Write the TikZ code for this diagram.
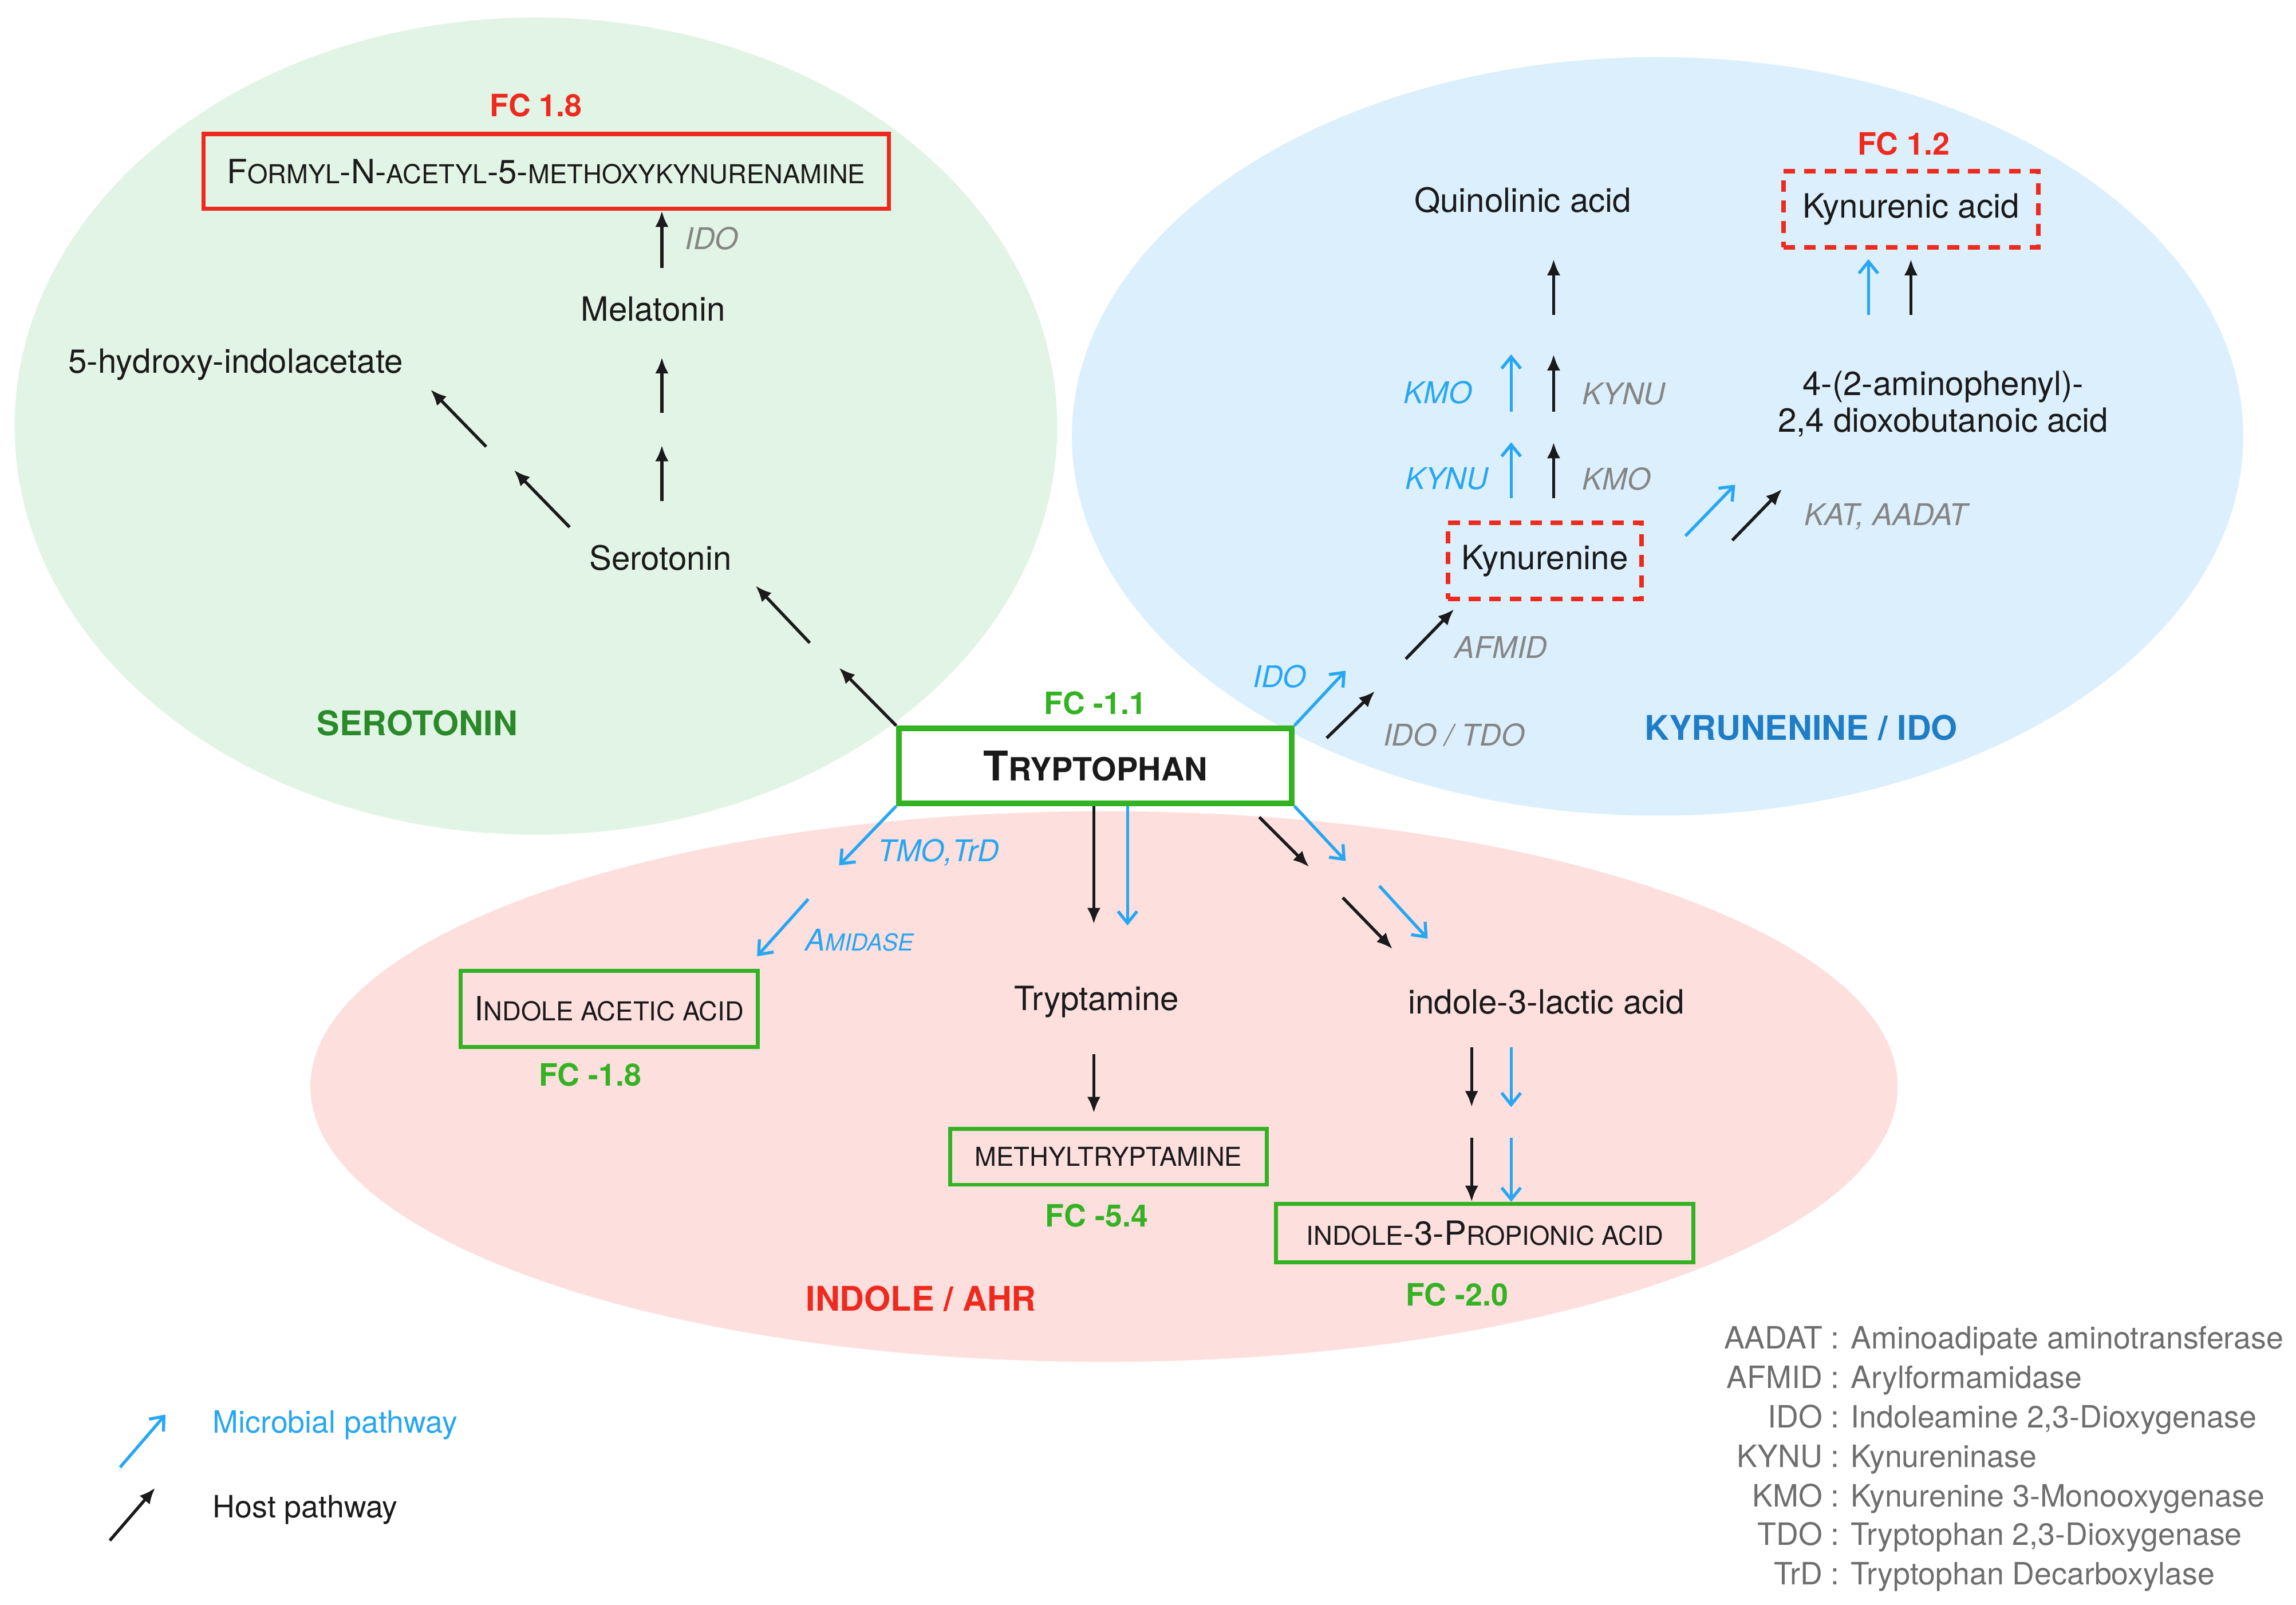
\documentclass[tikz,border=0pt]{standalone}
\usepackage{fontspec}
\setmainfont{TeX Gyre Heros}
\usepackage{tikz}
\usetikzlibrary{arrows.meta}

\definecolor{serofill}{HTML}{E2F4E5}
\definecolor{kynfill}{HTML}{DCEFFC}
\definecolor{indfill}{HTML}{FDDFDD}
\definecolor{microbe}{HTML}{27A7F2}
\definecolor{fcgreen}{HTML}{33B323}
\definecolor{fcred}{HTML}{EE2A1F}
\definecolor{serogreen}{HTML}{2A8A2A}
\definecolor{kynblue}{HTML}{1F7DC6}
\definecolor{enzgray}{HTML}{858585}
\definecolor{abbrgray}{HTML}{6E6E6E}
\definecolor{ink}{HTML}{1A1A1A}

% fake small caps (uppercase at 78% size)
\makeatletter
\newcommand\smc[1]{{\fontsize{\strip@pt\dimexpr.78\dimexpr\f@size pt\relax\relax}{\f@baselineskip}\selectfont\MakeUppercase{#1}}}
\makeatother

\tikzset{
	>=Latex,
	host/.style={-{Latex[length=5.5pt,width=4.6pt]}, line width=1.05pt, ink},
	microbial/.style={-{Straight Barb[length=4pt,width=6.5pt]}, line width=1.05pt, microbe},
	metab/.style={font=\fontsize{11.4}{12.5}\selectfont, text=ink},
	enzyme/.style={font=\itshape\fontsize{10.2}{12}\selectfont, text=enzgray},
	fclabel/.style={font=\bfseries\fontsize{10.5}{12}\selectfont, text=fcgreen},
	region/.style={font=\bfseries\fontsize{11.6}{13}\selectfont},
	fcbox/.style={metab, draw=fcgreen, line width=1.3pt},
	upbox/.style={metab, draw=fcred, line width=1.5pt},
	dashbox/.style={metab, draw=fcred, line width=1.5pt, dash pattern=on 4pt off 3pt},
	legtext/.style={font=\fontsize{10.5}{12}\selectfont, anchor=west, inner sep=0pt},
	abbr/.style={font=\fontsize{10.5}{12}\selectfont, text=abbrgray, anchor=base west, inner sep=0pt}
}

\begin{document}
\begin{tikzpicture}[x=0.5pt,y=-0.5pt]
	\useasboundingbox (0,0) rectangle (1568,1096);
	
	% pathway areas
	\fill[serofill] (366,291) ellipse [x radius=356, y radius=279];
	\fill[kynfill]  (1132,298) ellipse [x radius=400, y radius=259];
	\fill[indfill]  (754,742) ellipse [x radius=542, y radius=188];
	
	% area titles
	\node[region, text=serogreen] (tsero) at (285,494) {SEROTONIN};
	\node[region, text=kynblue]   (tkyn)  at (1230,497) {KYRUNENINE / IDO};
	\node[region, text=fcred]     (tind)  at (629,887) {INDOLE / AHR};
	
	% tryptophan in the middle
	\node[draw=fcgreen, line width=2pt, fill=white, minimum width=134pt, minimum height=25.5pt,
	font=\bfseries\fontsize{14}{16}\selectfont, text=ink] (trp) at (748,523) {T\smc{ryptophan}};
	\node[fclabel] (fctrp) at (748,480) {FC -1.1};
	
	% serotonin branch
	\node[upbox, minimum width=234pt, minimum height=25.5pt] (fak) at (373,117)
	{F\smc{ormyl}-N-\smc{acetyl}-5-\smc{methoxykynurenamine}};
	\node[fclabel, text=fcred] (fcfak) at (366,72) {FC 1.8};
	\node[metab] (mel) at (446,211) {Melatonin};
	\node[metab] (hia) at (161,249) {5-hydroxy-indolacetate};
	\node[metab] (ser) at (451,381) {Serotonin};
	\node[enzyme] (eido) at (486,163) {IDO};
	
	\coordinate (ts1) at (573,456);
	\coordinate (ts2) at (553,439);
	\coordinate (ts3) at (516,400);
	\coordinate (sh1) at (389,360);
	\coordinate (sh2) at (351,321);
	\coordinate (sh3) at (332,305);
	\coordinate (sh4) at (294,266);
	\coordinate (sm1) at (452,342);
	\coordinate (sm2) at (452,304);
	\coordinate (sm3) at (452,282);
	\coordinate (sm4) at (452,244);
	\coordinate (mf1) at (452,183);
	
	\draw[host] (trp.north west) -- (ts1);
	\draw[host] (ts2) -- (ts3);
	\draw[host] (sh1) -- (sh2);
	\draw[host] (sh3) -- (sh4);
	\draw[host] (sm1) -- (sm2);
	\draw[host] (sm3) -- (sm4);
	\draw[host] (mf1) -- (mf1 |- fak.south);
	
	% kynurenine branch
	\node[metab] (quin) at (1040,137) {Quinolinic acid};
	\node[dashbox, minimum width=87pt, minimum height=26pt] (kyna) at (1305,143) {Kynurenic acid};
	\node[fclabel, text=fcred] (fckyna) at (1300,98) {FC 1.2};
	\node[dashbox, minimum width=66pt, minimum height=26pt] (kyn) at (1055,383) {Kynurenine};
	\node[metab, align=center] (adba) at (1327,276) {4-(2-aminophenyl)-\\2,4 dioxobutanoic acid};
	\node[enzyme, text=microbe] (ekmo1) at (982,268) {KMO};
	\node[enzyme] (ekynu1) at (1109,269) {KYNU};
	\node[enzyme, text=microbe] (ekynu2) at (988,327) {KYNU};
	\node[enzyme] (ekmo2) at (1104,327) {KMO};
	\node[enzyme] (ekat) at (1288,353) {KAT, AADAT};
	\node[enzyme] (eafmid) at (1025,442) {AFMID};
	\node[enzyme, text=microbe] (eido2) at (874,462) {IDO};
	\node[enzyme] (etdo) at (993,502) {IDO / TDO};
	
	\coordinate (tk1) at (919,458);
	\coordinate (tk2) at (906,504);
	\coordinate (tk3) at (939,472);
	\coordinate (ak1) at (960,450);
	\coordinate (ak2) at (993,416);
	\coordinate (kq1) at (1032,340);
	\coordinate (kq2) at (1032,302);
	\coordinate (kq3) at (1061,340);
	\coordinate (kq4) at (1061,302);
	\coordinate (kq5) at (1032,281);
	\coordinate (kq6) at (1032,242);
	\coordinate (kq7) at (1061,281);
	\coordinate (kq8) at (1061,242);
	\coordinate (kq9) at (1061,215);
	\coordinate (kq10) at (1061,177);
	\coordinate (ka1) at (1276,215);
	\coordinate (ka2) at (1276,177);
	\coordinate (ka3) at (1305,215);
	\coordinate (ka4) at (1305,177);
	\coordinate (kd1) at (1151,366);
	\coordinate (kd2) at (1185,331);
	\coordinate (kd3) at (1183,369);
	\coordinate (kd4) at (1217,334);
	
	\draw[microbial] (trp.north east) -- (tk1);
	\draw[host] (tk2) -- (tk3);
	\draw[host] (ak1) -- (ak2);
	\draw[microbial] (kq1) -- (kq2);
	\draw[host] (kq3) -- (kq4);
	\draw[microbial] (kq5) -- (kq6);
	\draw[host] (kq7) -- (kq8);
	\draw[host] (kq9) -- (kq10);
	\draw[microbial] (ka1) -- (ka2);
	\draw[host] (ka3) -- (ka4);
	\draw[microbial] (kd1) -- (kd2);
	\draw[host] (kd3) -- (kd4);
	
	% indole branch
	\node[enzyme, text=microbe] (etmo) at (641,582) {TMO,TrD};
	\node[enzyme, text=microbe] (eami) at (587,642) {A\smc{midase}};
	\node[fcbox, minimum width=101.5pt, minimum height=26pt] (iaa) at (416,689) {I\smc{ndole acetic acid}};
	\node[fclabel] (fciaa) at (403,734) {FC -1.8};
	\node[metab] (tra) at (749,684) {Tryptamine};
	\node[fcbox, minimum width=108pt, minimum height=19pt] (mtr) at (757,790) {\smc{methyltryptamine}};
	\node[fclabel] (fcmtr) at (749,830) {FC -5.4};
	\node[metab] (ila) at (1056,684) {indole-3-lactic acid};
	\node[fcbox, minimum width=142.5pt, minimum height=20pt] (ipa) at (1014,842) {\smc{indole}-3-P\smc{ropionic acid}};
	\node[fclabel] (fcipa) at (995,884) {FC -2.0};
	
	\coordinate (ti1) at (573,591);
	\coordinate (ti2) at (552,614);
	\coordinate (ti3) at (517,653);
	\coordinate (tt1) at (747,631);
	\coordinate (tt2) at (770,632);
	\coordinate (tl1) at (860,558);
	\coordinate (tl2) at (894,592);
	\coordinate (tl3) at (919,588);
	\coordinate (tl4) at (917,613);
	\coordinate (tl5) at (951,648);
	\coordinate (tl6) at (942,605);
	\coordinate (tl7) at (975,641);
	\coordinate (lp1) at (1005,715);
	\coordinate (lp2) at (1005,756);
	\coordinate (lp3) at (1032,715);
	\coordinate (lp4) at (1032,756);
	\coordinate (lp5) at (1005,777);
	\coordinate (lp7) at (1032,777);
	\coordinate (tm1) at (747,720);
	\coordinate (tm2) at (747,760);
	
	\draw[microbial] (trp.south west) -- (ti1);
	\draw[microbial] (ti2) -- (ti3);
	\draw[host] (trp.south -| tt1) -- (tt1);
	\draw[microbial] (trp.south -| tt2) -- (tt2);
	\draw[host] (tl1) -- (tl2);
	\draw[microbial] (trp.south east) -- (tl3);
	\draw[host] (tl4) -- (tl5);
	\draw[microbial] (tl6) -- (tl7);
	\draw[host] (lp1) -- (lp2);
	\draw[microbial] (lp3) -- (lp4);
	\draw[host] (lp5) -- (lp5 |- ipa.north);
	\draw[microbial] (lp7) -- (lp7 |- ipa.north);
	\draw[host] (tm1) -- (tm2);
	
	% legend
	\coordinate (lm1) at (82,1002);
	\coordinate (lm2) at (113,966);
	\coordinate (lh1) at (75,1052);
	\coordinate (lh2) at (106,1016);
	\draw[microbial] (lm1) -- (lm2);
	\draw[host] (lh1) -- (lh2);
	\node[legtext, text=microbe] (lmic) at (145,973) {Microbial pathway};
	\node[legtext, text=ink] (lhost) at (145,1031) {Host pathway};
	
	% abbreviations
	\node[abbr] (ab1) at (1250,921) {\llap{AADAT }: Aminoadipate aminotransferase};
	\node[abbr] (ab2) at (1250,948) {\llap{AFMID }: Arylformamidase};
	\node[abbr] (ab3) at (1250,975) {\llap{IDO }: Indoleamine 2,3-Dioxygenase};
	\node[abbr] (ab4) at (1250,1002) {\llap{KYNU }: Kynureninase};
	\node[abbr] (ab5) at (1250,1029) {\llap{KMO }: Kynurenine 3-Monooxygenase};
	\node[abbr] (ab6) at (1250,1055) {\llap{TDO }: Tryptophan 2,3-Dioxygenase};
	\node[abbr] (ab7) at (1250,1082) {\llap{TrD }: Tryptophan Decarboxylase};
	
\end{tikzpicture}
\end{document}
